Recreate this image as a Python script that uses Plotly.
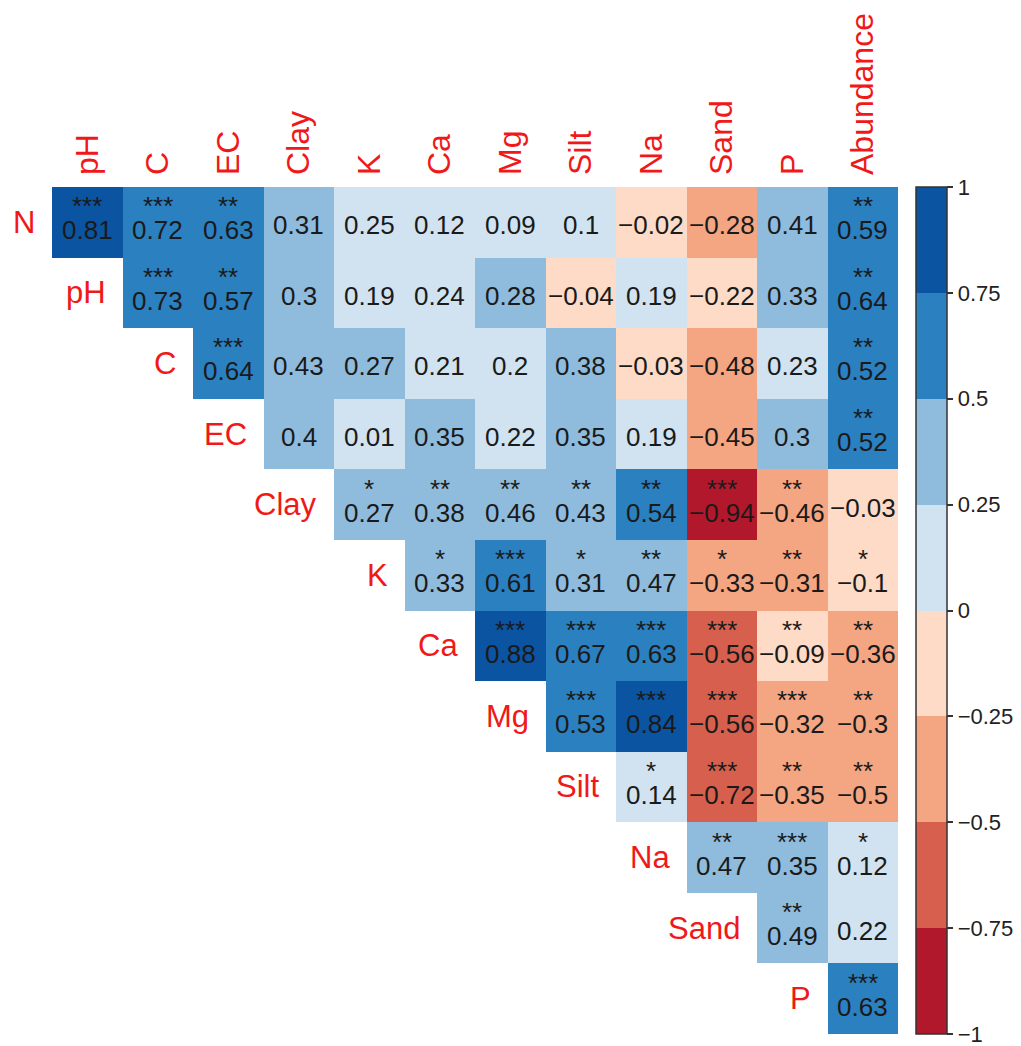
import plotly.graph_objects as go

# Variables in row order (rows) and column order (columns)
row_vars = ["N", "pH", "C", "EC", "Clay", "K", "Ca", "Mg", "Silt", "Na", "Sand", "P"]
col_vars = ["pH", "C", "EC", "Clay", "K", "Ca", "Mg", "Silt", "Na", "Sand", "P", "Abundance"]

# Upper-triangular correlation coefficients; each row starts at its own diagonal
r_N    = [0.81, 0.72, 0.63, 0.31, 0.25, 0.12, 0.09, 0.10, -0.02, -0.28, 0.41, 0.59]
r_pH   = [0.73, 0.57, 0.30, 0.19, 0.24, 0.28, -0.04, 0.19, -0.22, 0.33, 0.64]
r_C    = [0.64, 0.43, 0.27, 0.21, 0.20, 0.38, -0.03, -0.48, 0.23, 0.52]
r_EC   = [0.40, 0.01, 0.35, 0.22, 0.35, 0.19, -0.45, 0.30, 0.52]
r_Clay = [0.27, 0.38, 0.46, 0.43, 0.54, -0.94, -0.46, -0.03]
r_K    = [0.33, 0.61, 0.31, 0.47, -0.33, -0.31, -0.10]
r_Ca   = [0.88, 0.67, 0.63, -0.56, -0.09, -0.36]
r_Mg   = [0.53, 0.84, -0.56, -0.32, -0.30]
r_Silt = [0.14, -0.72, -0.35, -0.50]
r_Na   = [0.47, 0.35, 0.12]
r_Sand = [0.49, 0.22]
r_P    = [0.63]

# Significance marks, same layout as the coefficients
s_N    = ["***", "***", "**", "", "", "", "", "", "", "", "", "**"]
s_pH   = ["***", "**", "", "", "", "", "", "", "", "", "**"]
s_C    = ["***", "", "", "", "", "", "", "", "", "**"]
s_EC   = ["", "", "", "", "", "", "", "", "**"]
s_Clay = ["*", "**", "**", "**", "**", "***", "**", ""]
s_K    = ["*", "***", "*", "**", "*", "**", "*"]
s_Ca   = ["***", "***", "***", "***", "**", "**"]
s_Mg   = ["***", "***", "***", "***", "**"]
s_Silt = ["*", "***", "**", "**"]
s_Na   = ["**", "***", "*"]
s_Sand = ["**", ""]
s_P    = ["***"]

# Colour bar ticks
cbar_ticks = [-1, -0.75, -0.5, -0.25, 0, 0.25, 0.5, 0.75, 1]

coef_rows = [r_N, r_pH, r_C, r_EC, r_Clay, r_K, r_Ca, r_Mg, r_Silt, r_Na, r_Sand, r_P]
star_rows = [s_N, s_pH, s_C, s_EC, s_Clay, s_K, s_Ca, s_Mg, s_Silt, s_Na, s_Sand, s_P]

n = len(col_vars)
z = []
for i, vals in enumerate(coef_rows):
    z.append([None] * i + vals)

# Stepped diverging palette, 8 bins of width 0.25 from -1 to 1
bin_colors = ["#b2182b", "#d6604d", "#f4a582", "#fddbc7",
              "#d1e3f1", "#8fbcdd", "#2b80c0", "#0b54a2"]
edges = [0.0, 0.125, 0.25, 0.375, 0.5, 0.6251, 0.75, 0.875, 1.0]
colorscale = []
for k, c in enumerate(bin_colors):
    colorscale.append([edges[k], c])
    colorscale.append([edges[k + 1], c])


def fmt(v):
    s = f"{v:.2f}".rstrip("0").rstrip(".")
    if s in ("-0", ""):
        s = "0"
    return s.replace("-", "\u2212")


FONT = "Liberation Sans, Arial, sans-serif"
TXT = "#1a1a1a"
RED = "#f01818"

L, R, T, B = 52, 123, 187, 12
W, H = 1021, 1046
plot_w = W - L - R

fig = go.Figure()
fig.add_trace(go.Heatmap(
    z=z, x=col_vars, y=row_vars,
    zmin=-1, zmax=1, colorscale=colorscale,
    hoverongaps=False,
    colorbar=dict(
        x=(916 - L) / plot_w, xanchor="left", xpad=0,
        y=0.5, yanchor="middle", ypad=0, len=1.0, lenmode="fraction",
        thickness=31, thicknessmode="pixels",
        outlinewidth=1.5, outlinecolor="#333",
        tickmode="array",
        tickvals=cbar_ticks,
        ticktext=[fmt(v) for v in cbar_ticks],
        ticks="outside", ticklen=6, tickwidth=1.5, tickcolor="#333",
        ticklabeloverflow="allow",
        tickfont=dict(family=FONT, size=22, color="#222"),
    ),
))

annotations = []
for i, (vals, stars) in enumerate(zip(coef_rows, star_rows)):
    for j, (v, s) in enumerate(zip(vals, stars)):
        col = col_vars[i + j]
        if s:
            annotations.append(dict(
                x=col, y=row_vars[i], text=s, showarrow=False,
                font=dict(family=FONT, size=26, color=TXT),
                yshift=16))
            annotations.append(dict(
                x=col, y=row_vars[i], text=fmt(v), showarrow=False,
                font=dict(family=FONT, size=26, color=TXT),
                yshift=-8))
        else:
            annotations.append(dict(
                x=col, y=row_vars[i], text=fmt(v), showarrow=False,
                font=dict(family=FONT, size=26, color=TXT),
                yshift=-3))
    # Row name to the left of the diagonal cell
    annotations.append(dict(
        x=i - 0.5, y=row_vars[i], xref="x", yref="y", text=row_vars[i],
        showarrow=False, xanchor="right", xshift=-15,
        font=dict(family=FONT, size=31, color=RED)))

fig.update_layout(
    width=W, height=H,
    margin=dict(l=L, r=R, t=T, b=B, autoexpand=False),
    paper_bgcolor="white", plot_bgcolor="white",
    annotations=annotations,
    xaxis=dict(side="top", tickangle=-90, range=[-0.5, n - 0.5],
               showgrid=False, zeroline=False, showline=False, ticks="",
               ticklabelstandoff=11,
               tickfont=dict(family=FONT, size=32, color=RED)),
    yaxis=dict(autorange=False, range=[n - 0.5, -0.5], showgrid=False,
               zeroline=False, showline=False, showticklabels=False, ticks=""),
)

fig.write_html("out.html")
